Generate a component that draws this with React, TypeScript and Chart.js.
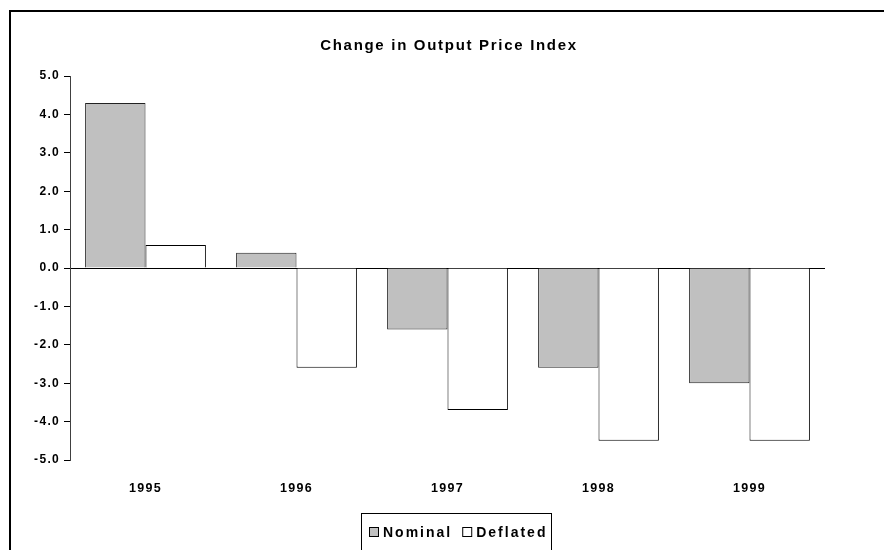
import React, { useEffect, useRef } from "react";
import { Chart, registerables } from "chart.js";

Chart.register(...registerables);

const title = "Change in Output Price Index";
const categories = ["1995", "1996", "1997", "1998", "1999"];
const nominal = [4.3, 0.4, -1.6, -2.6, -3.0];
const deflated = [0.6, -2.6, -3.7, -4.5, -4.5];
const yMin = -5;
const yMax = 5;
const yStep = 1;

const FONT = '"Liberation Sans", Arial, Helvetica, sans-serif';

const decorPlugin = {
  id: "decor",
  beforeDraw(chart: any) {
    const ctx = chart.ctx as any;
    ctx.letterSpacing = "1.3px";
  },
  afterDraw(chart: any) {
    const ctx = chart.ctx as any;
    ctx.save();
    // Title
    ctx.letterSpacing = "1.7px";
    ctx.font = `bold 15px ${FONT}`;
    ctx.fillStyle = "#000";
    ctx.textAlign = "center";
    ctx.textBaseline = "alphabetic";
    ctx.fillText(title, 449, 50);

    // Legend box
    ctx.letterSpacing = "2px";
    ctx.font = `bold 14px ${FONT}`;
    ctx.lineWidth = 1;
    ctx.strokeStyle = "#000";
    ctx.strokeRect(361.5, 513.5, 190, 60);
    let x = 369;
    ctx.textAlign = "left";
    chart.data.datasets.forEach((ds: any) => {
      ctx.fillStyle = ds.backgroundColor;
      ctx.fillRect(x, 527, 10, 10);
      ctx.strokeStyle = "#000";
      ctx.strokeRect(x + 0.5, 527.5, 9, 9);
      ctx.fillStyle = "#000";
      ctx.fillText(ds.label, x + 14, 537);
      const w = ctx.measureText(ds.label).width;
      x += 14 + w + 10;
    });
    ctx.restore();
    ctx.letterSpacing = "0px";
  },
};

export default function App() {
  const ref = useRef<HTMLCanvasElement | null>(null);

  useEffect(() => {
    if (!ref.current) return;
    const chart = new Chart(ref.current, {
      type: "bar",
      data: {
        labels: categories,
        datasets: [
          {
            label: "Nominal",
            data: nominal,
            backgroundColor: "#C0C0C0",
            borderColor: "#222222",
            borderWidth: 1,
            borderSkipped: "start",
            categoryPercentage: 0.8,
            barPercentage: 1.0,
          },
          {
            label: "Deflated",
            data: deflated,
            backgroundColor: "#FFFFFF",
            borderColor: "#000000",
            borderWidth: 1,
            borderSkipped: "start",
            categoryPercentage: 0.8,
            barPercentage: 1.0,
          },
        ],
      },
      options: {
        responsive: false,
        animation: false,
        devicePixelRatio: 1,
        layout: { padding: { left: 0, right: 59, top: 76, bottom: 0 } },
        plugins: {
          legend: { display: false },
          title: { display: false },
          tooltip: { enabled: false },
        },
        scales: {
          x: {
            grid: { display: false },
            border: { display: false },
            ticks: {
              font: { family: FONT, size: 12.5, weight: "bold" },
              color: "#000",
              padding: 13,
              maxRotation: 0,
            },
            afterFit: (s: any) => {
              s.height = 90;
            },
          },
          y: {
            min: yMin,
            max: yMax,
            ticks: {
              stepSize: yStep,
              callback: (v: any) => Number(v).toFixed(1),
              font: { family: FONT, size: 12, weight: "bold" },
              color: "#000",
              padding: 4,
            },
            grid: {
              color: (c: any) =>
                c.tick && c.tick.value === 0 ? "#000000" : "rgba(0,0,0,0)",
              tickColor: "#000",
              tickLength: 6,
              drawOnChartArea: true,
            },
            border: { display: true, color: "#404040", width: 1 },
            afterFit: (s: any) => {
              s.width = 70;
            },
          },
        },
      } as any,
      plugins: [decorPlugin],
    });
    return () => chart.destroy();
  }, []);

  return (
    <div
      style={{
        position: "fixed",
        left: 0,
        top: 0,
        width: 884,
        height: 550,
        overflow: "hidden",
        background: "#fff",
      }}
    >
      <div
        style={{
          position: "absolute",
          left: 9,
          top: 10,
          width: 920,
          height: 620,
          border: "2px solid #000",
        }}
      />
      <canvas
        ref={ref}
        width={884}
        height={550}
        style={{ position: "absolute", left: 0, top: 0 }}
      />
    </div>
  );
}
